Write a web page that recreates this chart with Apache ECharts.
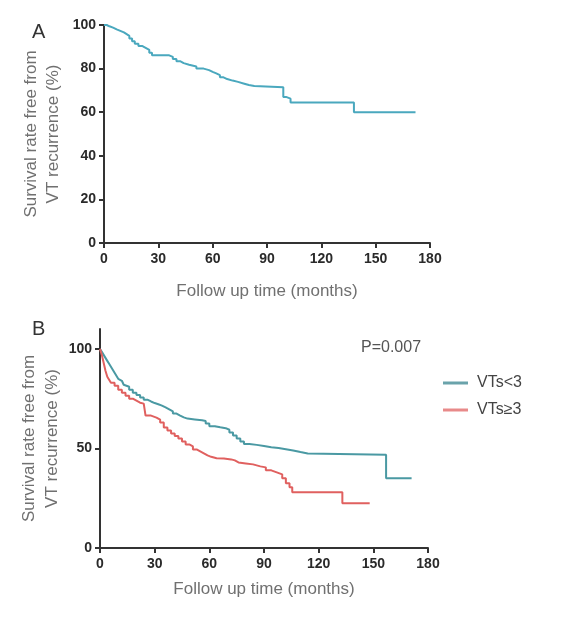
<!DOCTYPE html>
<html>
<head>
<meta charset="utf-8">
<script src="https://cdn.jsdelivr.net/npm/echarts@6/dist/echarts.min.js"></script>
<style>
html,body{margin:0;padding:0;background:#fff;}
#c{width:583px;height:625px;}
</style>
</head>
<body>
<div id="c"></div>
<script>
// Panel A: overall survival free from VT recurrence (step points: month, %)
const tA = [0,1.5,3,5,7,9,11,12.5,14,15.5,17,19,21,23,25,26.5,36,38,40,42,44,47,51,55,58,60,62,64,66,68,71,74,77,80,83,99,100.5,103,138,172];
const sA = [100,99.4,98.8,98,97.3,96.6,95.8,95,93.8,92.5,91.4,90.4,89.5,88.6,87.3,86.1,85.4,84.4,83.4,82.5,81.8,81,80,79.3,78.5,77.8,77,76,75.2,74.5,73.9,73.2,72.5,72,71.4,67,66.2,64.5,60,60];

// Panel B: VTs<3
const tB1 = [0,1,2,3,4,5,6,7,8,9,10,11,12,13,14,16,18,20,22,24,26,28,30,32,34,36,38,40,42,44,46,48,52,56,58,60,63,66,69,71,73,75,77,79,82,86,90,94,98,102,106,110,114,157,171];
const sB1 = [100,98.5,97,95.5,94,92.5,91,89.5,88,86.5,85,84,83,82,81,79.5,78,76.8,75.6,74.5,73.6,72.8,72.2,71.5,70.6,69.6,68.6,67.5,66.5,65.6,65,64.6,64.2,63.8,62.5,61.2,60.6,60.2,59.4,58,56.5,55,53.5,52.2,51.8,51.2,50.6,50.2,49.6,49,48.2,47.5,46.8,35,35];

// Panel B: VTs>=3
const tB2 = [0,1,2,3,4,5,6,8,10,12,14,16,18,20,22,24,25,28,31,33,35,37,39,41,43,45,47,49,51,53,55,57,59,61,64,68,72,74,76,80,84,88,91,94,97,100,102,104,105.5,133,148];
const sB2 = [100,97,93,89,86,84.5,83,81.5,79.5,78,76.5,75,74,73,72.5,72,66.5,65.5,64.5,63,60.5,59,57.5,56.2,55,53.5,52,51,49.5,48.5,47.5,46.5,45.8,45.1,45,44.5,44,43,42.5,42,41,40.5,39,38,37,35,32.5,30.5,28,22.5,22.5];

const seriesNames = ['VTs<3', 'VTs\u22653'];
const xTicksMax = 180, xInterval = 30;
const yTicksA = [0,20,40,60,80,100];
const yTicksB = [0,50,100];
const pText = 'P=0.007';
const yName = 'Survival rate free from\nVT recurrence (%)';
const xName = 'Follow up time (months)';

const pairs = (t, s) => t.map((v, i) => [v, s[i]]);

const font = '"Liberation Sans", Arial, sans-serif';
const axisDark = '#333';
const nameColor = '#707070';

function xAxis(gi, gap) {
  return {
    type: 'value', gridIndex: gi, min: 0, max: xTicksMax, interval: xInterval,
    name: xName, nameLocation: 'middle', nameGap: gap,
    nameTextStyle: {color: nameColor, fontSize: 17, fontFamily: font},
    axisLine: {show: true, lineStyle: {color: axisDark, width: 2}},
    axisTick: {show: true, inside: false, length: 5, lineStyle: {color: axisDark, width: 2}},
    axisLabel: {color: '#2a2a2a', fontSize: 14, fontWeight: 'bold', fontFamily: font, margin: 9},
    splitLine: {show: false}
  };
}
function yAxis(gi, max, ticks, gap, interval, lh) {
  return {
    type: 'value', gridIndex: gi, min: 0, max: max, interval: interval,
    name: yName, nameLocation: 'middle', nameGap: gap, nameRotate: 90, nameMoveOverlap: false,
    nameTextStyle: {color: nameColor, fontSize: 17, fontFamily: font, lineHeight: lh},
    axisLine: {show: true, lineStyle: {color: axisDark, width: 2}},
    axisTick: {show: true, inside: false, length: 5, lineStyle: {color: axisDark, width: 2}, customValues: ticks},
    axisLabel: {color: '#2a2a2a', fontSize: 14, fontWeight: 'bold', fontFamily: font, margin: 8, customValues: ticks},
    splitLine: {show: false}
  };
}

const chart = echarts.init(document.getElementById('c'), null, {renderer: 'canvas'});
chart.setOption({
  backgroundColor: '#ffffff',
  animation: false,
  grid: [
    {left: 104, top: 25, width: 326, height: 218},
    {left: 100, top: 329, width: 328, height: 219}
  ],
  xAxis: [xAxis(0, 40), xAxis(1, 33)],
  yAxis: [yAxis(0, 100, yTicksA, 40, 20, 22), yAxis(1, 110, yTicksB, 36, 50, 23)],
  title: [
    {text: 'A', left: 27, top: 17, textStyle: {fontSize: 20, fontWeight: 'normal', color: '#333', fontFamily: font}},
    {text: 'B', left: 27, top: 314, textStyle: {fontSize: 20, fontWeight: 'normal', color: '#333', fontFamily: font}},
    {text: pText, left: 356, top: 335, textStyle: {fontSize: 16, fontWeight: 'normal', color: '#555', fontFamily: font}}
  ],
  legend: {
    data: seriesNames, orient: 'vertical', left: 438, top: 370, itemGap: 11,
    itemWidth: 25, itemHeight: 3, icon: 'rect',
    textStyle: {fontSize: 16, color: '#444', fontFamily: font, padding: [0,0,0,4]}
  },
  series: [
    {name: 'All', type: 'line', xAxisIndex: 0, yAxisIndex: 0, step: 'end', showSymbol: false,
     data: pairs(tA, sA), lineStyle: {color: '#4aa8be', width: 2}, itemStyle: {color: '#4aa8be'}},
    {name: seriesNames[0], type: 'line', xAxisIndex: 1, yAxisIndex: 1, step: 'end', showSymbol: false,
     data: pairs(tB1, sB1), lineStyle: {color: '#4a99a3', width: 2}, itemStyle: {color: '#6aa3ab'}},
    {name: seriesNames[1], type: 'line', xAxisIndex: 1, yAxisIndex: 1, step: 'end', showSymbol: false,
     data: pairs(tB2, sB2), lineStyle: {color: '#e0605f', width: 2}, itemStyle: {color: '#e88a8a'}}
  ]
});
</script>
</body>
</html>
